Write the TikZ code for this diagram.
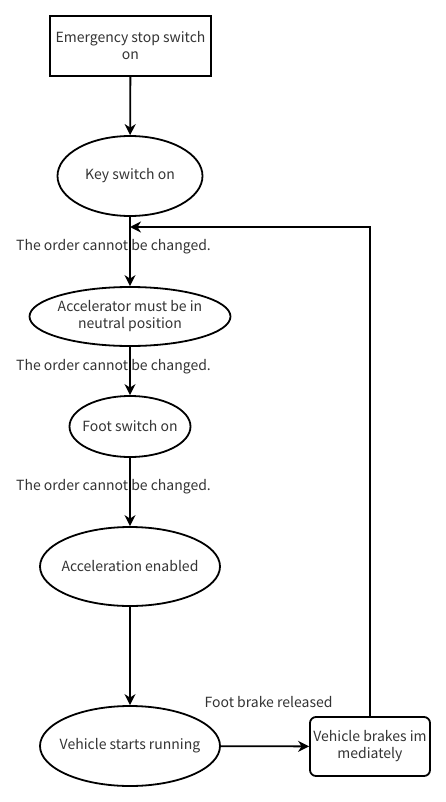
\documentclass[tikz,border=0pt]{standalone}
\usepackage{fontspec}
\setmainfont{Noto Sans CJK SC}
\usetikzlibrary{arrows.meta,shapes.geometric}
\tikzset{
  stepbox/.style={draw,rectangle,inner sep=0pt,align=center},
  oval/.style={draw,ellipse,inner xsep=-25pt,inner ysep=0pt,align=center},
  note/.style={inner sep=0pt}
}
\begin{document}
\begin{tikzpicture}[x=1pt,y=-1pt,line width=1.8pt,
  >={Stealth[length=11pt,width=11pt,inset=3.5pt]},
  every node/.style={font=\fontsize{14}{17}\selectfont,text=black!80}]
  \useasboundingbox (0,0) rectangle (446,802);
  \node[stepbox,minimum width=161pt,minimum height=60pt] (estop) at (130.5,46) {Emergency stop switch\\on};
  \node[oval,minimum width=145pt,minimum height=80pt] (key) at (130,176) {Key switch on};
  \node[oval,minimum width=201pt,minimum height=59pt] (accel) at (130,316.5) {Accelerator must be in\\neutral position};
  \node[oval,minimum width=121pt,minimum height=61pt] (foot) at (130,426.5) {Foot switch on};
  \node[oval,minimum width=180pt,minimum height=79pt] (enable) at (130,566.5) {Acceleration enabled};
  \node[oval,minimum width=180pt,minimum height=80pt] (run) at (130,746) {Vehicle starts running};
  \node[stepbox,rounded corners=6pt,minimum width=120pt,minimum height=59pt] (brake) at (370,746.5) {Vehicle brakes im\\mediately};
  \node[note] (ord1) at (113.5,247) {The order cannot be changed.};
  \node[note] (ord2) at (113.5,367) {The order cannot be changed.};
  \node[note] (ord3) at (113.5,487) {The order cannot be changed.};
  \node[note] (rel) at (268.5,702) {Foot brake released};
  \coordinate (back) at (130,227);
  \draw[->] (estop) -- (key);
  \draw[->] (key) -- (accel);
  \draw[->] (accel) -- (foot);
  \draw[->] (foot) -- (enable);
  \draw[->] (enable) -- (run);
  \draw[->] (run) -- (brake);
  \draw[->] (brake.north) |- (back);
\end{tikzpicture}
\end{document}
